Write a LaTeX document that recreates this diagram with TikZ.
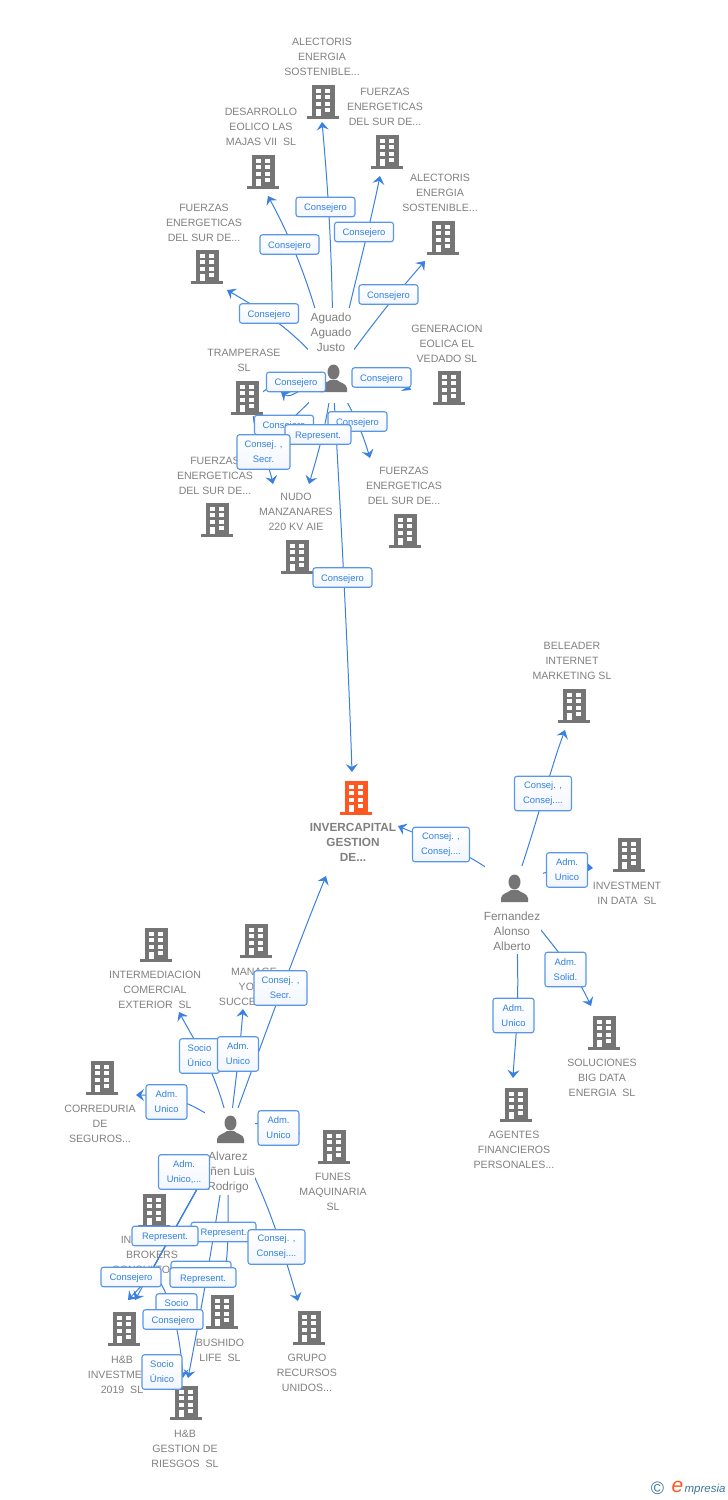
\documentclass[tikz,border=0pt]{standalone}
\usepackage{fontspec}
\setmainfont{Liberation Sans}
\usetikzlibrary{arrows.meta,backgrounds}

\definecolor{linkblue}{RGB}{58,128,224}
\definecolor{boxblue}{RGB}{88,150,232}
\definecolor{boxtext}{RGB}{50,128,226}
\definecolor{boxshade}{RGB}{242,246,252}
\definecolor{icongray}{RGB}{117,117,117}
\definecolor{capgray}{RGB}{128,128,128}
\definecolor{mainorange}{RGB}{255,87,34}
\definecolor{logoteal}{RGB}{60,120,150}

\tikzset{
  link/.style={draw=linkblue,line width=1pt,-{Stealth[length=8pt,width=12pt,inset=3pt]}},
  towerbox/.style={fill=white,minimum width=32pt,minimum height=35pt,inner sep=0pt},
  manbox/.style={fill=white,minimum width=48pt,minimum height=47pt,inner sep=0pt},
  caption/.style={font=\fontsize{10.6}{15}\selectfont,text=capgray,align=center,inner sep=0pt,yshift=-1pt},
  mantext/.style={font=\fontsize{11.8}{15}\selectfont,text=capgray,align=center,inner sep=0pt,fill=white},
  rolebox/.style={draw=boxblue,line width=1.1pt,rounded corners=2.5pt,top color=white,bottom color=boxshade,
    text=boxtext,font=\fontsize{9.4}{15}\selectfont,align=center,inner sep=0pt,minimum height=19.5pt,minimum width=#1,
    execute at begin node={\rule{0pt}{9pt}}},
  rolebig/.style={rolebox=#1,minimum height=34.5pt},
  tower/.pic={
    \fill[pic actions] (-11.5,-17) rectangle (11.5,14);
    \fill[pic actions] (-16,14) rectangle (16,17);
    \foreach \wy in {-13,-7,-0.5}{
      \fill[white] (-7,\wy) rectangle (-2,\wy+4);
      \fill[white] (2,\wy) rectangle (7,\wy+4);
    }
    \fill[white] (2,6) rectangle (7,10);
    \fill[white] (-7,6.5) rectangle (-2,14);
  },
  man/.pic={
    \fill[pic actions] (0.5,-7) ellipse (6 and 7.5);
    \fill[pic actions] (-13,13) -- (-13,9) .. controls (-12,4) and (-6,4) .. (-3,1) -- (4,1)
      .. controls (7,4) and (13,4) .. (14,9) -- (14,13) -- cycle;
  },
}

\begin{document}
\begin{tikzpicture}[x=1pt,y=-1pt]
  \useasboundingbox (0,0) rectangle (728,1500);
  % towers
  \foreach \n/\x/\y in {alectorisA/323/102,fuerzasA/387/152,desarrollo/263/172,alectorisB/443/238,
    fuerzasB/207/267,generacion/449/388,tramperase/247/398,fuerzasC/217/520,fuerzasD/405/531,
    nudo/297/557,beleader/574/706,investment/629/855,soluciones/604/1033,agentes/516/1105,
    intermediacion/156/945,manage/256/941,correduria/102/1078,funes/334/1147,insurance/154/1211,
    bushido/222/1312,hbinvest/124/1329,grupo/309/1328,hbgestion/186/1403}{
    \node[towerbox] (\n) at (\x,\y) {};
    \pic[fill=icongray] at (\n) {tower};
  }
  \node[towerbox] (invercapital) at (356,798) {};
  \pic[fill=mainorange] at (invercapital) {tower};
  % people
  \node[manbox] (aguado) at (333,379) {};
  \pic[fill=icongray] at (aguado) {man};
  \node[manbox,minimum width=58pt] (fernandez) at (514,889) {};
  \pic[fill=icongray] at (fernandez) {man};
  \node[manbox,minimum width=50pt,minimum height=44pt] (alvarez) at (230,1130) {};
  \pic[fill=icongray] at (alvarez) {man};
  \node[mantext,minimum width=46pt,minimum height=48pt] (aguadotext) at (331,332) {Aguado\\Aguado\\Justo};
  \node[mantext,minimum width=58pt,minimum height=46pt] (fernandeztext) at (512,931) {Fernandez\\Alonso\\Alberto};
  \node[mantext,minimum width=50pt,minimum height=46pt] (alvareztext) at (228,1172) {Alvarez\\\hspace*{9.5pt}ñen Luis\\Rodrigo};
  % captions top
  \node[caption] (capA) at (322,56) {ALECTORIS\\ENERGIA\\SOSTENIBLE...};
  \node[caption] (capB) at (385,106) {FUERZAS\\ENERGETICAS\\DEL SUR DE...};
  \node[caption] (capC) at (261,126) {DESARROLLO\\EOLICO LAS\\MAJAS VII\ \ SL};
  \node[caption] (capD) at (440,192) {ALECTORIS\\ENERGIA\\SOSTENIBLE...};
  \node[caption] (capE) at (204,222) {FUERZAS\\ENERGETICAS\\DEL SUR DE...};
  \node[caption] (capF) at (447,343) {GENERACION\\EOLICA EL\\VEDADO SL};
  \node[caption] (capG) at (244,359.5) {TRAMPERASE\\SL};
  \node[caption] (capH) at (215,475) {FUERZAS\\ENERGETICAS\\DEL SUR DE...};
  \node[caption] (capI) at (404,485) {FUERZAS\\ENERGETICAS\\DEL SUR DE...};
  \node[caption] (capJ) at (296,511) {NUDO\\MANZANARES\\220 KV AIE};
  % captions right
  \node[caption] (capK) at (572,660) {BELEADER\\INTERNET\\MARKETING SL};
  \node[caption,font=\bfseries\fontsize{11.8}{15}\selectfont] (capL) at (353,841) {INVERCAPITAL\\GESTION\\DE...};
  \node[caption] (capM) at (627,892.5) {INVESTMENT\\IN DATA\ \ SL};
  \node[caption] (capN) at (602,1077) {SOLUCIONES\\BIG DATA\\ENERGIA\ \ SL};
  \node[caption] (capO) at (514,1149) {AGENTES\\FINANCIEROS\\PERSONALES...};
  % captions left
  \node[caption] (capP) at (155,989) {INTERMEDIACION\\COMERCIAL\\EXTERIOR\ \ SL};
  \node[caption] (capQ) at (254,986) {MANAGE\\YOUR\\SUCCESS\ \ SL};
  \node[caption] (capR) at (100,1123) {CORREDURIA\\DE\\SEGUROS...};
  \node[caption] (capS) at (333,1191) {FUNES\\MAQUINARIA\\SL};
  \node[caption] (capT) at (152,1254) {INSURANCE\\BROKERS\\CONSULTORES};
  \node[caption] (capU) at (220,1349.5) {BUSHIDO\\LIFE\ \ SL};
  \node[caption] (capV) at (122,1374) {H\&B\\INVESTMENT\\2019\ \ SL};
  \node[caption] (capW) at (307,1372) {GRUPO\\RECURSOS\\UNIDOS...};
  \node[caption] (capX) at (185,1448) {H\&B\\GESTION DE\\RIESGOS\ \ SL};
  % connectors go below the white boxes
  \begin{scope}[on background layer]
    % Aguado
    \draw[link] (aguado.center) .. controls (333,280) and (330,210) .. ([shift={(-1,20)}]alectorisA.center);
    \draw[link] (aguado.center) .. controls (350,300) and (368,235) .. ([shift={(-7,24)}]fuerzasA.center);
    \draw[link] (aguado.center) .. controls (318,310) and (300,255) .. ([shift={(5,24)}]desarrollo.center);
    \draw[link] (aguado.center) .. controls (360,340) and (395,295) .. ([shift={(-18,23)}]alectorisB.center);
    \draw[link] (aguado.center) .. controls (300,335) and (270,315) .. ([shift={(20,23)}]fuerzasB.center);
    \draw[link] (aguado.center) .. controls (375,375) and (395,380) .. ([shift={(-38,2)}]generacion.center);
    \draw[link] (aguado.center) .. controls (300,385) and (292,400) .. ([shift={(34,-6)}]tramperase.center);
    \draw[link] (aguado.center) -- ([shift={(33,-60)}]fuerzasC.center);
    \draw[link] (aguado.center) .. controls (212,375) and (262,435) .. ([shift={(56,-36)}]fuerzasC.center);
    \draw[link] (aguado.center) .. controls (326,420) and (325,430) .. ([shift={(12,-73)}]nudo.center);
    \draw[link] (aguado.center) .. controls (350,405) and (360,425) .. ([shift={(-35,-73)}]fuerzasD.center);
    \draw[link] (aguado.center) .. controls (337,450) and (347,620) .. ([shift={(-4,-26)}]invercapital.center);
    % Fernandez
    \draw[link] (fernandez.center) .. controls (470,850) and (430,840) .. ([shift={(42,28)}]invercapital.center);
    \draw[link] (fernandez.center) .. controls (535,830) and (550,770) .. ([shift={(-9,24)}]beleader.center);
    \draw[link] (fernandez.center) .. controls (530,872) and (570,866) .. ([shift={(-36,13)}]investment.center);
    \draw[link] (fernandez.center) .. controls (530,925) and (565,950) .. ([shift={(-13,-27)}]soluciones.center);
    \draw[link] (fernandez.center) .. controls (522,1000) and (515,1040) .. ([shift={(-3,-27)}]agentes.center);
    % Alvarez
    \draw[link] (alvarez.center) .. controls (270,1020) and (300,940) .. ([shift={(-30,78)}]invercapital.center);
    \draw[link] (alvarez.center) .. controls (235,1085) and (240,1050) .. ([shift={(-13,68)}]manage.center);
    \draw[link] (alvarez.center) .. controls (215,1070) and (205,1060) .. ([shift={(23,67)}]intermediacion.center);
    \draw[link] (alvarez.center) .. controls (190,1100) and (170,1095) .. ([shift={(34,17)}]correduria.center);
    \draw[link] (alvarez.center) .. controls (250,1118) and (280,1125) .. ([shift={(-34,-13)}]funes.center);
    \draw[link] (alvarez.center) .. controls (265,1190) and (280,1240) .. ([shift={(-11,-27)}]grupo.center);
    \draw[link] (alvarez.center) -- ([shift={(11,-29)}]hbinvest.center);
    \draw[link] (alvarez.center) -- (146,1281) -- ([shift={(4,-29)}]hbinvest.center);
    \draw[link] (alvarez.center) .. controls (225,1195) and (232,1235) .. ([shift={(1,-29)}]bushido.center);
    \draw[link] (alvarez.center) .. controls (215,1230) and (205,1290) .. ([shift={(2,-25)}]hbgestion.center);
    \draw[link] (alvarez.center) -- (152,1270) .. controls (172,1295) and (180,1335) .. ([shift={(-3,-25)}]hbgestion.center);
  \end{scope}
  % role boxes top
  \node[rolebox=59pt] (roleA) at (325.5,207) {Consejero};
  \node[rolebox=59pt] (roleB) at (364,232) {Consejero};
  \node[rolebox=59pt] (roleC) at (289.5,244.5) {Consejero};
  \node[rolebox=59pt] (roleD) at (388.5,294.5) {Consejero};
  \node[rolebox=59pt] (roleE) at (269,313.5) {Consejero};
  \node[rolebox=59pt] (roleF) at (381.5,377.5) {Consejero};
  \node[rolebox=59pt] (roleG) at (296,382) {Consejero};
  \node[rolebox=59pt] (roleH) at (284,425) {Consejero};
  \node[rolebox=59pt] (roleI) at (357.5,421.5) {Consejero};
  \node[rolebox=66pt] (roleJ) at (318,434.5) {Represent.};
  \node[rolebig=53pt] (roleK) at (263.5,452) {Consej. ,\\Secr.};
  \node[rolebox=59pt] (roleL) at (342.5,577.5) {Consejero};
  % role boxes right
  \node[rolebig=57pt] (roleM) at (543,793.5) {Consej. ,\\Consej....};
  \node[rolebig=57pt] (roleN) at (441,844.5) {Consej. ,\\Consej....};
  \node[rolebig=41pt] (roleO) at (567,870) {Adm.~\\Unico};
  \node[rolebig=41pt] (roleP) at (565.5,969.5) {Adm.~\\Solid.};
  \node[rolebig=41pt] (roleQ) at (513.5,1015.5) {Adm.~\\Unico};
  % role boxes left
  \node[rolebig=53pt] (roleR) at (280.5,988) {Consej. ,\\Secr.};
  \node[rolebig=40pt] (roleS) at (199.5,1056) {Socio\\Único};
  \node[rolebig=41pt] (roleT) at (238,1054) {Adm.~\\Unico};
  \node[rolebig=41pt] (roleU) at (166.5,1102) {Adm.~\\Unico};
  \node[rolebig=41pt] (roleV) at (278.5,1128) {Adm.~\\Unico};
  \node[rolebig=51pt] (roleW) at (184,1172) {Adm.\\Unico,...};
  \node[rolebox=65pt] (roleY) at (223.5,1232) {Represent.};
  \node[rolebox=66pt] (roleX) at (165,1236) {Represent.};
  \node[rolebig=57pt] (roleZ) at (276.5,1247) {Consej. ,\\Consej....};
  \node[rolebox=60pt] (roleAA) at (201,1271) {Consejero};
  \node[rolebox=66pt] (roleAB) at (203,1277.5) {Represent.};
  \node[rolebox=60pt] (roleAC) at (131,1277) {Consejero};
  \node[rolebig=41pt] (roleAD) at (176.5,1311) {Socio\\Único};
  \node[rolebox=60pt] (roleAE) at (173,1319.5) {Consejero};
  \node[rolebig=40pt] (roleAF) at (162,1372) {Socio\\Único};
  % logo
  \node[inner sep=0pt,text=logoteal,font=\fontsize{18}{18}\selectfont] (logoc) at (657.5,1488.5) {©};
  \node[inner sep=0pt,text=mainorange,font=\itshape\fontsize{21}{21}\selectfont] (logoe) at (677.5,1487) {e};
  \node[inner sep=0pt,text=logoteal,font=\itshape\fontsize{11.5}{11.5}\selectfont] (logot) at (705,1489.5) {mpresia};
\end{tikzpicture}
\end{document}
